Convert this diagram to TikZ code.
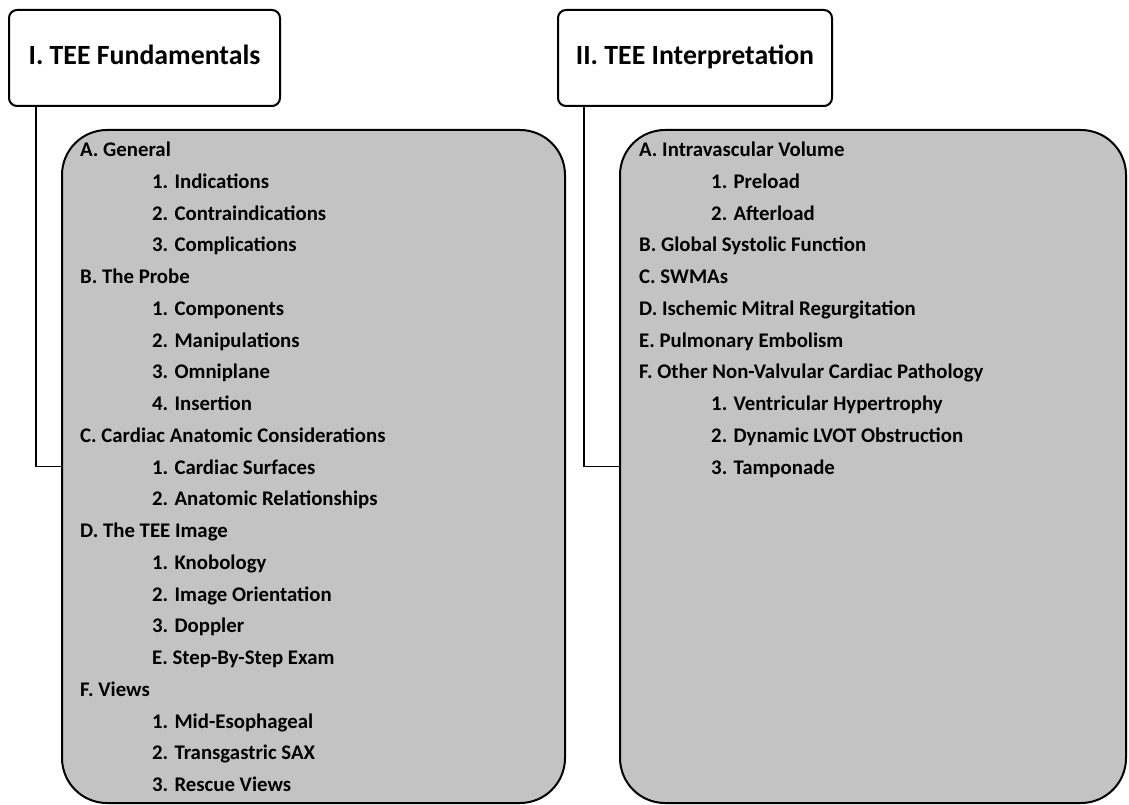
\documentclass[tikz,border=0pt]{standalone}
\usepackage{fontspec}
\setmainfont{Carlito}
\begin{document}
\begin{tikzpicture}[x=1pt,y=-1pt,
  titlebox/.style={draw=black,line width=2pt,rounded corners=8pt,fill=white,inner sep=0pt},
  graybox/.style={draw=black,line width=2pt,rounded corners=45pt,fill=boxgray,inner sep=0pt},
  titletext/.style={font=\fontsize{27.8}{32}\selectfont\bfseries,inner sep=0pt,anchor=base},
  itemA/.style={font=\fontsize{20.8}{24}\selectfont\bfseries,anchor=base west,inner sep=0pt},
  conn/.style={draw=black,line width=1.8pt}]
\definecolor{boxgray}{RGB}{195,195,195}
\useasboundingbox (0,0) rectangle (1129,805);
% title boxes
\node[titlebox,minimum width=271pt,minimum height=96pt] (t1) at (144.5,58) {};
\node[titletext] (t1txt) at (144.5,65) {I. TEE Fundamentals};
\node[titlebox,minimum width=274pt,minimum height=96pt] (t2) at (695,58) {};
\node[titletext] (t2txt) at (695,65) {II. TEE Interpretation};
% gray boxes
\node[graybox,minimum width=503pt,minimum height=673pt] (g1) at (313.5,466.5) {};
\node[graybox,minimum width=506pt,minimum height=673pt] (g2) at (873,466.5) {};
% connectors
\draw[conn] ([xshift=28pt]t1.south west) |- (g1.west);
\draw[conn] ([xshift=27pt]t2.south west) |- (g2.west);
% left items
\def\dy{31.75}
\def\by{156.7}
\node[itemA] (l1) at (80,\by+0*\dy) {A. General};
\node[itemA] (l2) at (152,\by+1*\dy) {1. Indications};
\node[itemA] (l3) at (152,\by+2*\dy) {2. Contraindications};
\node[itemA] (l4) at (152,\by+3*\dy) {3. Complications};
\node[itemA] (l5) at (80,\by+4*\dy) {B. The Probe};
\node[itemA] (l6) at (152,\by+5*\dy) {1. Components};
\node[itemA] (l7) at (152,\by+6*\dy) {2. Manipulations};
\node[itemA] (l8) at (152,\by+7*\dy) {3. Omniplane};
\node[itemA] (l9) at (152,\by+8*\dy) {4. Insertion};
\node[itemA] (l10) at (80,\by+9*\dy) {C. Cardiac Anatomic Considerations};
\node[itemA] (l11) at (152,\by+10*\dy) {1. Cardiac Surfaces};
\node[itemA] (l12) at (152,\by+11*\dy) {2. Anatomic Relationships};
\node[itemA] (l13) at (80,\by+12*\dy) {D. The TEE Image};
\node[itemA] (l14) at (152,\by+13*\dy) {1. Knobology};
\node[itemA] (l15) at (152,\by+14*\dy) {2. Image Orientation};
\node[itemA] (l16) at (152,\by+15*\dy) {3. Doppler};
\node[itemA] (l17) at (152,\by+16*\dy) {E. Step-By-Step Exam};
\node[itemA] (l18) at (80,\by+17*\dy) {F. Views};
\node[itemA] (l19) at (152,\by+18*\dy) {1. Mid-Esophageal};
\node[itemA] (l20) at (152,\by+19*\dy) {2. Transgastric SAX};
\node[itemA] (l21) at (152,\by+20*\dy) {3. Rescue Views};
% right items
\node[itemA] (r1) at (639,\by+0*\dy) {A. Intravascular Volume};
\node[itemA] (r2) at (711,\by+1*\dy) {1. Preload};
\node[itemA] (r3) at (711,\by+2*\dy) {2. Afterload};
\node[itemA] (r4) at (639,\by+3*\dy) {B. Global Systolic Function};
\node[itemA] (r5) at (639,\by+4*\dy) {C. SWMAs};
\node[itemA] (r6) at (639,\by+5*\dy) {D. Ischemic Mitral Regurgitation};
\node[itemA] (r7) at (639,\by+6*\dy) {E. Pulmonary Embolism};
\node[itemA] (r8) at (639,\by+7*\dy) {F. Other Non-Valvular Cardiac Pathology};
\node[itemA] (r9) at (711,\by+8*\dy) {1. Ventricular Hypertrophy};
\node[itemA] (r10) at (711,\by+9*\dy) {2. Dynamic LVOT Obstruction};
\node[itemA] (r11) at (711,\by+10*\dy) {3. Tamponade};
\end{tikzpicture}
\end{document}
